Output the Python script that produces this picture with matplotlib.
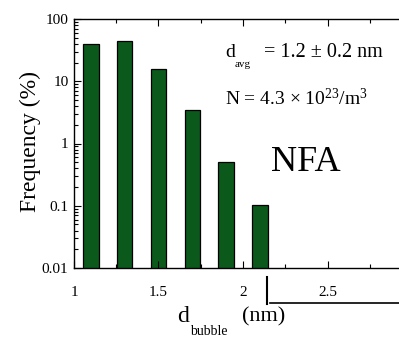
import matplotlib
matplotlib.use("Agg")
import matplotlib.pyplot as plt
from matplotlib.ticker import MultipleLocator, LogLocator, FixedLocator, NullFormatter
from matplotlib.lines import Line2D

# Data
d_bubble = [1.1, 1.3, 1.5, 1.7, 1.9, 2.1]
frequency = [40, 44, 15.5, 3.5, 0.5, 0.1]
x_ticks = [1, 1.5, 2, 2.5]
x_tick_labels = ['1', '1.5', '2', '2.5']
y_ticks = [0.01, 0.1, 1, 10, 100]
y_tick_labels = ['0.01', '0.1', '1', '10', '100']

plt.rcParams['font.family'] = ['Liberation Serif', 'DejaVu Serif']
plt.rcParams['mathtext.fontset'] = 'custom'
plt.rcParams['mathtext.rm'] = 'Liberation Serif'
plt.rcParams['mathtext.it'] = 'Liberation Serif'

W, H = 399, 337
fig = plt.figure(figsize=(W / 100, H / 100), dpi=100)
ax = fig.add_axes([74 / W, (H - 268) / H, (W - 74) / W, (268 - 19) / H])

ax.bar(d_bubble, frequency, width=0.092, color='#0b5a1c', edgecolor='black',
       linewidth=0.9, bottom=0.001)
ax.set_yscale('log')
ax.set_ylim(0.01, 100)
ax.set_xlim(1.0, 1.0 + (W - 74) / 169)

ax.spines['right'].set_visible(False)
for s in ['left', 'bottom', 'top']:
    ax.spines[s].set_linewidth(1.0)

ax.xaxis.set_major_locator(FixedLocator(x_ticks))
ax.set_xticklabels(x_tick_labels)
ax.xaxis.set_minor_locator(MultipleLocator(0.25))
ax.yaxis.set_major_locator(FixedLocator(y_ticks))
ax.set_yticklabels(y_tick_labels)
ax.yaxis.set_minor_locator(LogLocator(base=10, subs=range(2, 10)))
ax.yaxis.set_minor_formatter(NullFormatter())

ax.tick_params(axis='both', which='both', direction='in', top=True, right=False,
               labelsize=11, width=0.8)
ax.tick_params(axis='both', which='major', length=5)
ax.tick_params(axis='both', which='minor', length=3)
ax.tick_params(axis='x', which='major', pad=13)
ax.tick_params(axis='y', which='major', pad=4)

# axis labels
fig.text(30 / W, 1 - 141 / H, 'Frequency (%)', rotation=90, fontsize=17,
         ha='center', va='center')
fig.text(177 / W, 1 - 322 / H, 'd', fontsize=17, ha='left', va='baseline')
fig.text(190 / W, 1 - 335 / H, 'bubble', fontsize=10, ha='left', va='baseline')
fig.text(242 / W, 1 - 321 / H, '(nm)', fontsize=16, ha='left', va='baseline')

# annotations
fig.text(225 / W, 1 - 57 / H, 'd', fontsize=14, ha='left', va='baseline')
fig.text(235 / W, 1 - 67 / H, 'avg', fontsize=8, ha='left', va='baseline')
fig.text(264 / W, 1 - 57 / H, '= 1.2 \u00b1 0.2 nm', fontsize=14.5, ha='left', va='baseline')
fig.text(225 / W, 1 - 105 / H, 'N = 4.3 \u00d7 10$^{23}$/m$^{3}$', fontsize=14,
         ha='left', va='baseline')
fig.text(271 / W, 1 - 171 / H, 'NFA', fontsize=26, ha='left', va='baseline')

# stray lines below the axis in the reference
fig.add_artist(Line2D([267 / W, 267 / W], [1 - 277 / H, 1 - 304 / H],
                      color='black', linewidth=1.5))
fig.add_artist(Line2D([270 / W, 1.0], [1 - 303 / H, 1 - 303 / H],
                      color='black', linewidth=1.2))

fig.savefig('out.png', dpi=100)
